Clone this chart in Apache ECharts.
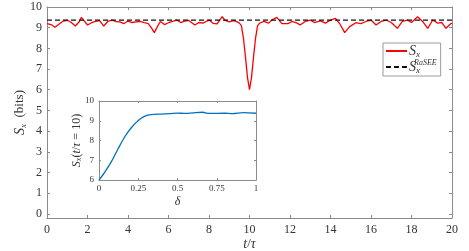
<!DOCTYPE html>
<html>
<head>
<meta charset="utf-8">
<script src="https://cdn.jsdelivr.net/npm/echarts@6/dist/echarts.min.js"></script>
<style>
  html, body { margin: 0; padding: 0; background: #fff; }
  #chart { width: 469px; height: 251px; }
</style>
</head>
<body>
<div id="chart"></div>
<script>
// main curve S_x(t/tau)
var tVals = [0.0, 0.2, 0.4, 0.6, 0.8, 1.0, 1.2, 1.4, 1.6, 1.7, 1.8, 2.0, 2.2, 2.4, 2.6, 2.8, 3.0, 3.2, 3.4, 3.6,
  3.8, 4.0, 4.2, 4.4, 4.6, 4.8, 5.0, 5.15, 5.3, 5.45, 5.6, 5.8, 6.0, 6.2, 6.4, 6.6, 6.8, 7.0, 7.3, 7.5,
  7.7, 8.0, 8.2, 8.4, 8.65, 8.8, 9.0, 9.2, 9.4, 9.5, 9.6, 9.7, 9.8, 9.9, 10.0, 10.1, 10.2, 10.3, 10.4, 10.5,
  10.7, 10.95, 11.1, 11.35, 11.6, 11.9, 12.1, 12.35, 12.5, 12.75, 13.0, 13.2, 13.5, 13.75, 14.0, 14.25, 14.45, 14.7, 14.95, 15.25,
  15.5, 15.75, 16.0, 16.25, 16.5, 16.75, 17.0, 17.3, 17.55, 17.8, 18.0, 18.3, 18.55, 18.8, 19.05, 19.3, 19.5, 19.7, 19.95, 20.0];
var sxVals = [9.20, 9.15, 9.02, 9.18, 9.32, 9.36, 9.25, 9.08, 9.30, 9.50, 9.38, 9.13, 9.24, 9.30, 9.34, 9.08, 9.30, 9.36, 9.30, 9.28,
  9.20, 9.32, 9.25, 9.28, 9.30, 9.24, 9.20, 9.00, 8.76, 9.05, 9.30, 9.15, 9.24, 9.30, 9.37, 9.25, 9.32, 9.35, 9.13, 9.25,
  9.22, 9.37, 9.21, 9.18, 9.53, 9.35, 9.28, 9.34, 9.28, 9.22, 9.10, 8.50, 7.60, 6.60, 6.00, 6.60, 7.60, 8.50, 9.10, 9.22,
  9.30, 9.22, 9.37, 9.50, 9.20, 9.20, 9.30, 9.22, 9.13, 9.30, 9.37, 9.25, 9.33, 9.22, 9.37, 9.45, 9.20, 8.76, 9.05, 9.24,
  9.20, 9.30, 9.37, 9.13, 9.30, 9.37, 9.25, 8.97, 9.30, 9.37, 9.25, 9.53, 9.30, 8.97, 9.37, 9.22, 9.25, 8.97, 9.20, 9.22];
var rasee = 9.37;
var xTicks = [0, 2, 4, 6, 8, 10, 12, 14, 16, 18, 20];
var yTicks = [0, 1, 2, 3, 4, 5, 6, 7, 8, 9, 10];

// inset: S_x(t/tau = 10) vs delta
var deltaVals = [0, 0.036, 0.079, 0.121, 0.164, 0.207, 0.26, 0.31, 0.39, 0.45, 0.5, 0.55, 0.6, 0.66, 0.7, 0.8, 0.85, 0.92, 1.0];
var insetVals = [6.0, 6.39, 6.93, 7.57, 8.19, 8.66, 9.08, 9.28, 9.34, 9.36, 9.39, 9.37, 9.40, 9.43, 9.37, 9.38, 9.36, 9.41, 9.38];
var insetXTicks = [0, 0.25, 0.5, 0.75, 1];
var insetYTicks = [6, 7, 8, 9, 10];

var serif = 'Liberation Serif';
var axisGray = '#8c8c8c';
var txt = '#333';

function zip(a, b) {
  return a.map(function(v, i) { return [v, b[i]]; });
}

var rich = {
  i: { fontFamily: serif, fontStyle: 'italic', fontSize: 14, color: txt },
  n: { fontFamily: serif, fontSize: 13, color: txt },
  sub: { fontFamily: serif, fontStyle: 'italic', fontSize: 9, color: txt, padding: [7, 0, 0, 0] },
  sup: { fontFamily: serif, fontStyle: 'italic', fontSize: 8, color: txt, padding: [0, 0, 8, -6] }
};
var richSmall = {
  i: { fontFamily: serif, fontStyle: 'italic', fontSize: 12, color: txt },
  n: { fontFamily: serif, fontSize: 12, color: txt },
  sub: { fontFamily: serif, fontStyle: 'italic', fontSize: 8, color: txt, padding: [5, 0, 0, 0] }
};

function boxAxis(type, gridIndex, pos, min, max, ticks, extra) {
  var ax = {
    type: 'value', gridIndex: gridIndex, position: pos, min: min, max: max,
    nameMoveOverlap: false,
    axisLine: { show: true, onZero: false, lineStyle: { color: axisGray, width: 1 } },
    axisTick: { show: true, inside: true, length: 3, customValues: ticks, lineStyle: { color: axisGray } },
    axisLabel: { show: false },
    splitLine: { show: false }
  };
  return Object.assign(ax, extra || {});
}

var chart = echarts.init(document.getElementById('chart'));
chart.setOption({
  backgroundColor: '#fff',
  animation: false,
  grid: [
    { left: 47, right: 17, top: 7, bottom: 33, outerBoundsMode: 'none' },
    { left: 99, top: 101, width: 157, height: 79, outerBoundsMode: 'none',
      show: true, backgroundColor: '#fff', borderWidth: 0 }
  ],
  legend: {
    left: 383, top: 43, orient: 'vertical',
    backgroundColor: '#fff', borderColor: '#9a9a9a', borderWidth: 1, borderRadius: 0,
    padding: [1, 4, 1, 2], itemGap: 0, itemWidth: 21, itemHeight: 12,
    itemStyle: { opacity: 0 },
    data: ['Sx', 'SxRaSEE'],
    formatter: function(name) {
      return name === 'Sx' ? '{i|S}{sub|x}' : '{i|S}{sub|x}{sup|RaSEE}';
    },
    textStyle: { rich: rich, padding: [0, 0, 0, -3] }
  },
  xAxis: [
    boxAxis('x', 0, 'bottom', 0, 20, xTicks, {
      name: '{i|t}{n|/}{i|τ}', nameLocation: 'middle', nameGap: 19,
      nameTextStyle: { rich: rich },
      axisLabel: { show: true, customValues: xTicks, fontFamily: serif, fontSize: 12, color: txt, margin: 6 }
    }),
    boxAxis('x', 0, 'top', 0, 20, xTicks),
    boxAxis('x', 1, 'bottom', 0, 1, insetXTicks, {
      name: '{i|δ}', nameLocation: 'middle', nameGap: 16,
      nameTextStyle: { rich: richSmall },
      axisTick: { show: true, inside: true, length: 2, customValues: insetXTicks, lineStyle: { color: axisGray } },
      axisLabel: { show: true, customValues: insetXTicks, fontFamily: serif, fontSize: 9, color: txt, margin: 4 }
    }),
    boxAxis('x', 1, 'top', 0, 1, insetXTicks, {
      axisTick: { show: true, inside: true, length: 2, customValues: insetXTicks, lineStyle: { color: axisGray } }
    })
  ],
  yAxis: [
    boxAxis('y', 0, 'left', -0.2, 10, yTicks, {
      name: '{i|S}{sub|x}{n|  (bits)}', nameLocation: 'middle', nameGap: 19,
      nameTextStyle: { rich: rich },
      axisLabel: { show: true, customValues: yTicks, fontFamily: serif, fontSize: 12, color: txt, margin: 5 }
    }),
    boxAxis('y', 0, 'right', -0.2, 10, yTicks),
    boxAxis('y', 1, 'left', 6, 10, insetYTicks, {
      name: '{i|S}{sub|x}{n|(}{i|t}{n|/}{i|τ}{n| = 10)}', nameLocation: 'middle', nameGap: 16,
      nameTextStyle: { rich: richSmall },
      axisTick: { show: true, inside: true, length: 2, customValues: insetYTicks, lineStyle: { color: axisGray } },
      axisLabel: { show: true, customValues: insetYTicks, fontFamily: serif, fontSize: 9, color: txt, margin: 5 }
    }),
    boxAxis('y', 1, 'right', 6, 10, insetYTicks, {
      axisTick: { show: true, inside: true, length: 2, customValues: insetYTicks, lineStyle: { color: axisGray } }
    })
  ],
  series: [
    {
      name: 'Sx', type: 'line', xAxisIndex: 0, yAxisIndex: 0,
      data: zip(tVals, sxVals), showSymbol: false, symbol: 'none',
      lineStyle: { color: '#ff0000', width: 1.3 }, itemStyle: { color: '#ff0000' }
    },
    {
      name: 'SxRaSEE', type: 'line', xAxisIndex: 0, yAxisIndex: 0,
      data: [[0, rasee], [20, rasee]], showSymbol: false, symbol: 'none',
      lineStyle: { color: '#111', width: 1.3, type: [5, 3] }, itemStyle: { color: '#111' }
    },
    {
      name: 'inset', type: 'line', xAxisIndex: 2, yAxisIndex: 2,
      data: zip(deltaVals, insetVals), showSymbol: false, symbol: 'none', smooth: 0.3,
      lineStyle: { color: '#0072bd', width: 1.3 }
    }
  ]
});
</script>
</body>
</html>
